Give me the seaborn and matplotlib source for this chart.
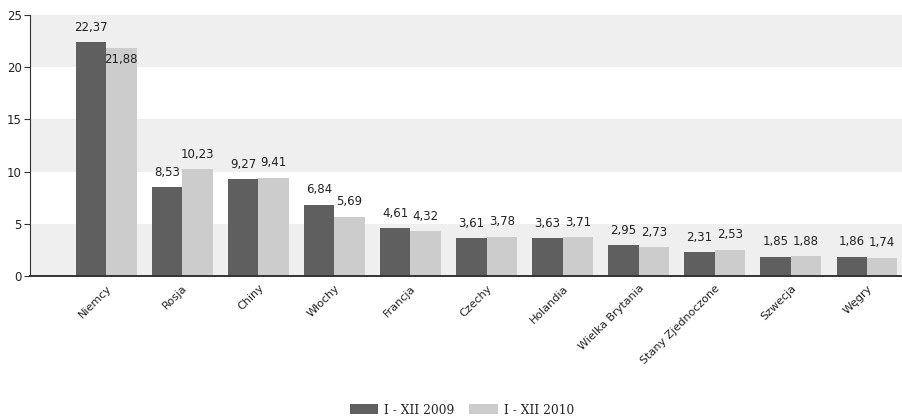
import matplotlib
matplotlib.use("Agg")
import matplotlib.pyplot as plt
import seaborn as sns
import pandas as pd
from matplotlib.patches import Patch

countries = ["Niemcy", "Rosja", "Chiny", "Włochy", "Francja", "Czechy", "Holandia",
             "Wielka Brytania", "Stany Zjednoczone", "Szwecja", "Węgry"]
series_names = ["I - XII 2009", "I - XII 2010"]
values_2009 = [22.37, 8.53, 9.27, 6.84, 4.61, 3.61, 3.63, 2.95, 2.31, 1.85, 1.86]
values_2010 = [21.88, 10.23, 9.41, 5.69, 4.32, 3.78, 3.71, 2.73, 2.53, 1.88, 1.74]
y_ticks = [0, 5, 10, 15, 20, 25]

df = pd.DataFrame({
    "kraj": countries * 2,
    "okres": [series_names[0]] * len(countries) + [series_names[1]] * len(countries),
    "udzial": values_2009 + values_2010,
})

sns.set_theme(style="white")
plt.rcParams["font.family"] = ["DejaVu Sans"]

fig = plt.figure(figsize=(9.02, 4.2), dpi=100)
ax = fig.add_axes([30 / 902, 144 / 420, 872 / 902, 261 / 420])

# alternating horizontal bands
for lo in (0, 10, 20):
    ax.axhspan(lo, lo + 5, color="#efefef", zorder=0, lw=0)

palette = {series_names[0]: "#5f5f5f", series_names[1]: "#cccccc"}
sns.barplot(data=df, x="kraj", y="udzial", hue="okres", order=countries,
            hue_order=series_names, palette=palette, width=0.8, gap=0,
            saturation=1, ax=ax, legend=False, zorder=2, edgecolor="none")

# value labels
for ci, cont in enumerate(ax.containers):
    for bi, bar in enumerate(cont):
        h = bar.get_height()
        txt = f"{h:.2f}".replace(".", ",")
        cx = bar.get_x() + bar.get_width() / 2
        if ci == 1 and bi == 0:
            ax.text(cx, h - 0.5, txt, ha="center", va="top", fontsize=8.5, color="#222222", zorder=3)
        else:
            ax.text(cx, h + 0.8, txt, ha="center", va="bottom", fontsize=8.5, color="#222222", zorder=3)

ax.set_xlim(-1.0, 10.46)
ax.set_ylim(0, 25)
ax.set_yticks(y_ticks)
ax.set_yticklabels([str(t) for t in y_ticks], fontsize=8.5, color="#222222")
ax.set_xlabel("")
ax.set_ylabel("")
ax.set_xticks(range(len(countries)))
ax.set_xticklabels(countries, rotation=45, ha="right", rotation_mode="anchor",
                   fontsize=8, color="#222222")
ax.tick_params(axis="x", length=0, pad=5)
ax.tick_params(axis="y", length=4, width=0.8, color="#333333", left=True, pad=2)

for s in ("top", "right"):
    ax.spines[s].set_visible(False)
ax.spines["left"].set_color("#333333")
ax.spines["left"].set_linewidth(0.8)
ax.spines["bottom"].set_color("#333333")
ax.spines["bottom"].set_linewidth(1.4)

# legend at the bottom
handles = [Patch(facecolor=palette[n], edgecolor="none") for n in series_names]
fig.legend(handles, series_names, loc="center", bbox_to_anchor=(462 / 902, 10 / 420),
           ncol=2, frameon=False, handlelength=2.3, handleheight=0.9, handletextpad=0.5,
           columnspacing=1.2, prop={"family": "DejaVu Serif", "size": 8.8})

fig.savefig("out.png", dpi=100)
